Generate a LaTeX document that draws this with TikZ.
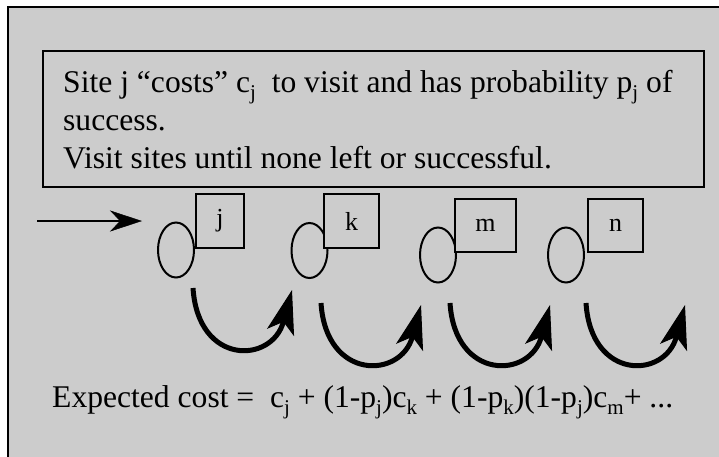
\documentclass[tikz,border=0pt]{standalone}
\usepackage{fontspec}
\setmainfont{Liberation Serif}
\usetikzlibrary{arrows.meta,shapes.geometric,calc}
\definecolor{bg}{RGB}{204,204,204}
\newcommand\mysub[1]{\raisebox{-0.25em}{\fontsize{21}{21}\selectfont #1}}
\tikzset{
  frame/.style={fill=bg,draw=black,line width=2.5pt},
  descbox/.style={draw=black,fill=bg,line width=2pt,inner sep=0pt,anchor=north west,minimum width=661pt,minimum height=136pt},
  bigtext/.style={inner sep=0pt,anchor=base west,font=\fontsize{31.6}{38}\selectfont},
  site/.style={ellipse,draw=black,line width=2pt,inner sep=0pt,minimum width=36pt,minimum height=55pt},
  lab/.style={rectangle,draw=black,fill=bg,line width=1.5pt,inner sep=0pt,font=\fontsize{26}{30}\selectfont},
  bigarrow/.style={line width=5pt,-{Stealth[length=44pt,width=28pt,inset=11pt,line width=1pt]}},
  inarrow/.style={line width=2.5pt,-{Stealth[length=32pt,width=21pt,inset=10pt,line width=0.5pt]}}
}
\begin{document}
\begin{tikzpicture}[x=1pt,y=-1pt]
\useasboundingbox (0,0) rectangle (719,456);
\clip (0,0) rectangle (719,456);
\path[frame] (8,7) rectangle (760,500);
% description box
\node[descbox] (desc) at (42,50) {};
\node[bigtext] (line1) at (63,92) {Site j “costs” c\mysub{j}\ \ to visit and has probability p\mysub{j} of};
\node[bigtext] (line2) at (63,130) {success.};
\node[bigtext] (line3) at (63,168) {Visit sites until none left or successful.};
% sites
\node[site] (ej) at (176,250) {};
\node[site] (ek) at (309.5,250.5) {};
\node[site] (em) at (438,255) {};
\node[site] (en) at (566,255) {};
\node[lab,minimum width=48pt,minimum height=54pt] (bj) at (220,221) {j};
\node[lab,minimum width=55pt,minimum height=54pt] (bk) at (351.5,221) {k};
\node[lab,minimum width=61pt,minimum height=53pt] (bm) at (485.5,225.5) {m};
\node[lab,minimum width=55pt,minimum height=53pt] (bn) at (615.5,225.5) {n};
% entry arrow
\coordinate (in0) at (37,221);
\coordinate (in1) at (142,221);
\draw[inarrow] (in0) -- (in1);
% curved arrows
\coordinate (s1) at (193,288); \coordinate (t1) at (292,290);
\coordinate (s2) at (321,303); \coordinate (t2) at (421,305);
\coordinate (s3) at (450,303); \coordinate (t3) at (550,305);
\coordinate (s4) at (586,303); \coordinate (t4) at (685,305);
\foreach \i in {1,2,3,4}{
  \draw[bigarrow] (s\i) .. controls ($(s\i)+(5,78)$) and ($(t\i)+(-20,74)$) .. (t\i);
}
% formula
\node[bigtext] (formula) at (52,407) {Expected cost =\ \ c\mysub{j} + (1-p\mysub{j})c\mysub{k} + (1-p\mysub{k})(1-p\mysub{j})c\mysub{m}+ ...};
\end{tikzpicture}
\end{document}
